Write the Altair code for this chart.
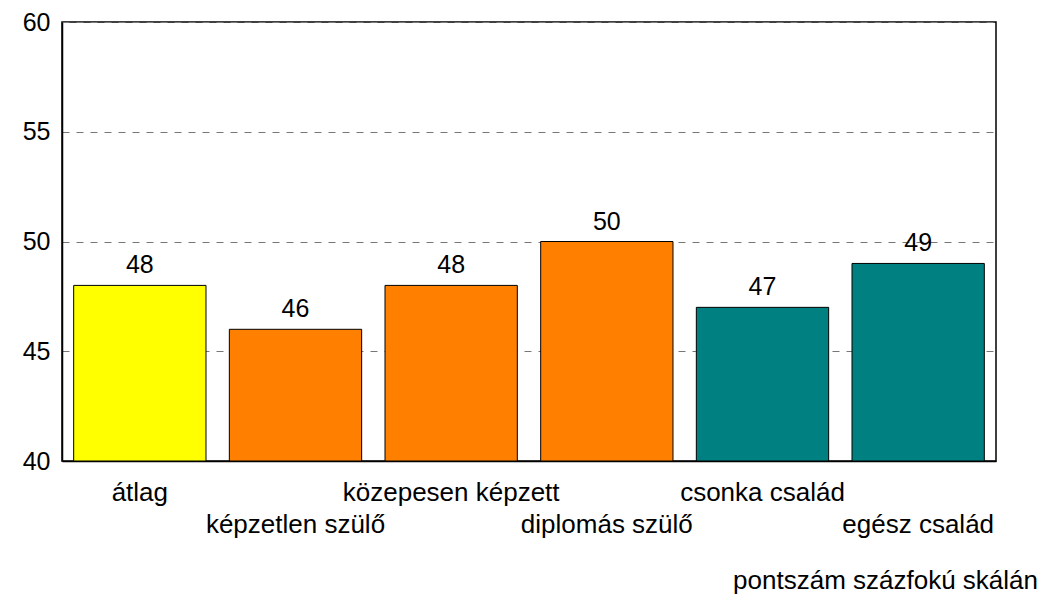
import altair as alt
import pandas as pd

categories = ["átlag", "képzetlen szülő", "közepesen képzett", "diplomás szülő", "csonka család", "egész család"]
values = [48, 46, 48, 50, 47, 49]
groups = ["átlag", "szülő", "szülő", "szülő", "család", "család"]
group_colors = ["#FFFF00", "#FF8000", "#008080"]
group_names = ["átlag", "szülő", "család"]
y_ticks = [40, 45, 50, 55, 60]
note = "pontszám százfokú skálán"

df = pd.DataFrame({"cat": categories, "val": values, "grp": groups})

FONT = "Liberation Sans"
FS = 25
FSX = 26
W, H = 934, 439

second_row = [categories[i] for i in range(1, len(categories), 2)]
label_expr = "indexof(" + str(second_row).replace("'", '"') + ", datum.value) >= 0 ? ['', datum.value] : datum.value"

base = alt.Chart(df).encode(
    x=alt.X("cat:N", sort=categories, title=None,
            scale=alt.Scale(paddingInner=0.15, paddingOuter=0.075),
            axis=alt.Axis(labelAngle=0, labelFont=FONT, labelFontSize=FSX, labelColor="black",
                          labelExpr=label_expr, labelLineHeight=32, labelPadding=18, labelLimit=400,
                          labelOverlap=False,
                          domainColor="black", domainWidth=1.5, ticks=False, labelBaseline="top")),
)

bars = base.mark_bar(stroke="black", strokeWidth=1).encode(
    y=alt.Y("val:Q", title=None, scale=alt.Scale(domain=[40, 60], nice=False, zero=False),
            axis=alt.Axis(values=y_ticks, labelFont=FONT, labelFontSize=FS, labelColor="black",
                          labelPadding=12, ticks=False, domainColor="black", domainWidth=1.5,
                          grid=True, gridColor="#777777", gridDash=[7, 7], gridWidth=1)),
    y2=alt.datum(40),
    color=alt.Color("grp:N", scale=alt.Scale(domain=group_names, range=group_colors), legend=None),
)

texts = base.mark_text(font=FONT, fontSize=FS, color="black", baseline="alphabetic", dy=-12).encode(
    y=alt.Y("val:Q"),
    text=alt.Text("val:Q"),
)

chart = alt.layer(bars, texts).properties(
    width=W, height=H,
    background="white",
    title=alt.TitleParams(note, orient="bottom", anchor="end", font=FONT, fontSize=FSX,
                          fontWeight="normal", color="black", offset=31, dx=42),
    autosize=alt.AutoSizeParams(type="none"),
    padding={"left": 54, "top": 14, "right": 47, "bottom": 142},
).configure_view(stroke="black", strokeWidth=1.5)

chart.save("out.html", embed_options={"renderer": "svg", "actions": False})
